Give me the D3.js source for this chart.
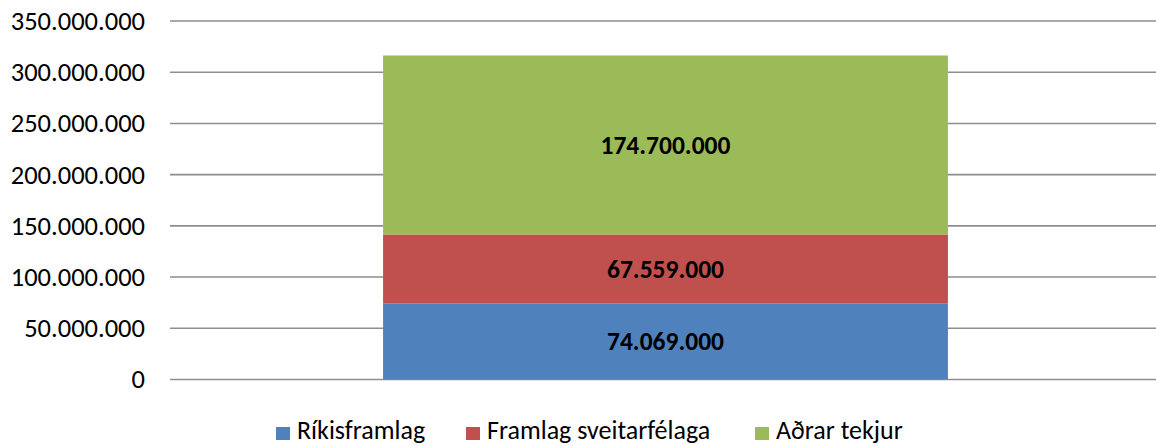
<!DOCTYPE html>
<html>
<head>
<meta charset="utf-8">
<script src="https://cdn.jsdelivr.net/npm/d3@7"></script>
<style>
  html, body { margin: 0; padding: 0; background: #fff; }
  svg { display: block; font-family: Carlito, Calibri, Lato, sans-serif; }
</style>
</head>
<body>
<svg id="chart" width="1156" height="446"></svg>
<script>
// Funding sources, stacked in a single column
const categories = ["Tekjur"];
const seriesNames = ["Ríkisframlag", "Framlag sveitarfélaga", "Aðrar tekjur"];
const seriesValues = [74069000, 67559000, 174700000];
const seriesColors = ["#4f81bd", "#c0504d", "#9bbb59"];
const yTicks = [0, 50000000, 100000000, 150000000, 200000000, 250000000, 300000000, 350000000];

const svg = d3.select("#chart");
const margin = { top: 21, right: 0, bottom: 67, left: 170 };
const width = 1161 - margin.left;
const height = 379.5 - margin.top;

const fmt = v => d3.format(",")(v).replace(/,/g, ".");

const x = d3.scaleBand().domain(categories).range([0, width]).paddingInner(0.43).paddingOuter(0.215);
const y = d3.scaleLinear().domain([0, 350000000]).range([height, 0]);

const g = svg.append("g").attr("transform", `translate(${margin.left},${margin.top})`);

// horizontal gridlines
g.selectAll("line.grid").data(yTicks).join("line")
  .attr("class", "grid")
  .attr("x1", 0).attr("x2", width)
  .attr("y1", d => y(d)).attr("y2", d => y(d))
  .attr("stroke", "#8e8e8e").attr("stroke-width", 1.6);

// y axis labels
const yAxis = d3.axisLeft(y).tickValues(yTicks).tickFormat(fmt).tickSize(0).tickPadding(25);
const ya = g.append("g").call(yAxis);
ya.select(".domain").remove();
ya.selectAll("text").attr("font-size", 26.5).attr("fill", "#000")
  .attr("font-family", "Carlito, Calibri, Lato, sans-serif");

// stacked segments
const stackData = [];
let acc = 0;
seriesValues.forEach((v, i) => {
  stackData.push({ name: seriesNames[i], value: v, y0: acc, y1: acc + v, color: seriesColors[i] });
  acc += v;
});

const bars = g.selectAll("g.seg").data(stackData).join("g").attr("class", "seg");
bars.append("rect")
  .attr("x", x(categories[0]))
  .attr("width", x.bandwidth())
  .attr("y", d => y(d.y1))
  .attr("height", d => y(d.y0) - y(d.y1))
  .attr("fill", d => d.color);
bars.append("text")
  .attr("x", x(categories[0]) + x.bandwidth() / 2)
  .attr("y", d => (y(d.y0) + y(d.y1)) / 2)
  .attr("dy", "0.35em")
  .attr("text-anchor", "middle")
  .attr("font-size", 25.5)
  .attr("font-weight", "bold")
  .attr("fill", "#000")
  .text(d => fmt(d.value));

// legend
const legendItems = [
  { name: seriesNames[0], color: seriesColors[0], x: 276 },
  { name: seriesNames[1], color: seriesColors[1], x: 466 },
  { name: seriesNames[2], color: seriesColors[2], x: 755 }
];
const lg = svg.append("g");
const li = lg.selectAll("g").data(legendItems).join("g")
  .attr("transform", d => `translate(${d.x},439)`);
li.append("rect").attr("x", 0).attr("y", -12).attr("width", 14).attr("height", 13).attr("fill", d => d.color);
li.append("text").attr("x", 21).attr("font-size", 26).attr("fill", "#000").text(d => d.name);
</script>
</body>
</html>
